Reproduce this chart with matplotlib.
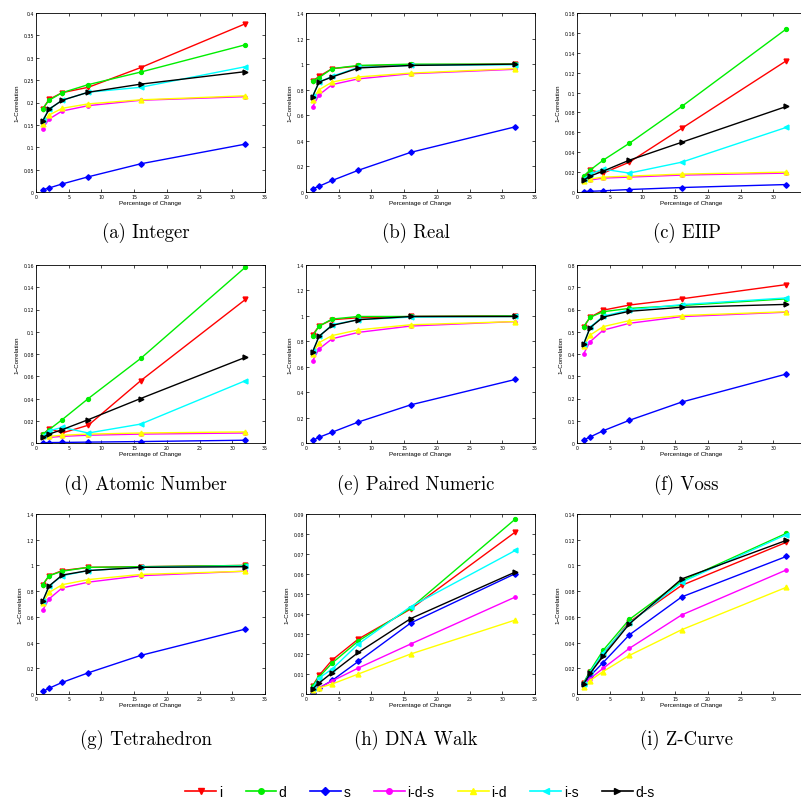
import matplotlib
matplotlib.use("Agg")
import matplotlib.pyplot as plt
from matplotlib.ticker import MultipleLocator, FuncFormatter
from matplotlib.lines import Line2D

# Percentage of change applied to the sequences
pct = [1, 2, 4, 8, 16, 32]

series_names = ["i", "d", "s", "i-d-s", "i-d", "i-s", "d-s"]
series_colors = ["#ff0000", "#00ee00", "#0000ff", "#ff00ff", "#ffff00", "#00ffff", "#000000"]
series_markers = ["v", "o", "D", "o", "^", "<", ">"]

panel_titles = ["(a) Integer", "(b) Real", "(c) EIIP",
                "(d) Atomic Number", "(e) Paired Numeric", "(f) Voss",
                "(g) Tetrahedron", "(h) DNA Walk", "(i) Z-Curve"]

# y-axis upper limit and tick step per panel
y_max = [0.4, 1.4, 0.18, 0.16, 1.4, 0.8, 1.4, 0.09, 0.14]
y_step = [0.05, 0.2, 0.02, 0.02, 0.2, 0.1, 0.2, 0.01, 0.02]

# 1 - correlation values, series order: i, d, s, i-d-s, i-d, i-s, d-s
integer_vals = [
    [0.185, 0.207, 0.222, 0.234, 0.278, 0.376],
    [0.186, 0.205, 0.222, 0.240, 0.268, 0.329],
    [0.005, 0.009, 0.018, 0.034, 0.063, 0.107],
    [0.141, 0.163, 0.181, 0.193, 0.205, 0.213],
    [0.153, 0.172, 0.187, 0.197, 0.206, 0.215],
    [0.160, 0.185, 0.205, 0.223, 0.234, 0.280],
    [0.158, 0.185, 0.205, 0.223, 0.241, 0.269],
]
real_vals = [
    [0.865, 0.905, 0.965, 0.985, 0.995, 1.000],
    [0.870, 0.895, 0.965, 0.990, 1.000, 1.000],
    [0.025, 0.045, 0.090, 0.170, 0.310, 0.510],
    [0.665, 0.760, 0.840, 0.885, 0.925, 0.960],
    [0.720, 0.800, 0.860, 0.900, 0.930, 0.965],
    [0.750, 0.860, 0.905, 0.975, 0.990, 0.995],
    [0.745, 0.860, 0.900, 0.970, 0.990, 1.000],
]
eiip_vals = [
    [0.013, 0.022, 0.019, 0.030, 0.064, 0.132],
    [0.016, 0.022, 0.032, 0.049, 0.086, 0.164],
    [0.0005, 0.0007, 0.0012, 0.0025, 0.0045, 0.0075],
    [0.011, 0.012, 0.014, 0.015, 0.017, 0.019],
    [0.011, 0.013, 0.015, 0.016, 0.018, 0.020],
    [0.013, 0.018, 0.023, 0.019, 0.030, 0.065],
    [0.012, 0.016, 0.021, 0.032, 0.050, 0.086],
]
atomic_vals = [
    [0.007, 0.013, 0.009, 0.016, 0.056, 0.129],
    [0.008, 0.012, 0.021, 0.040, 0.076, 0.158],
    [0.0003, 0.0004, 0.0005, 0.0008, 0.0013, 0.0025],
    [0.005, 0.005, 0.006, 0.007, 0.008, 0.009],
    [0.006, 0.006, 0.007, 0.008, 0.009, 0.010],
    [0.006, 0.011, 0.014, 0.009, 0.017, 0.056],
    [0.005, 0.008, 0.012, 0.021, 0.040, 0.077],
]
paired_vals = [
    [0.850, 0.920, 0.970, 0.985, 0.995, 1.000],
    [0.840, 0.920, 0.975, 0.995, 0.995, 1.000],
    [0.020, 0.045, 0.085, 0.165, 0.300, 0.500],
    [0.645, 0.740, 0.820, 0.870, 0.920, 0.955],
    [0.700, 0.790, 0.845, 0.890, 0.930, 0.955],
    [0.720, 0.840, 0.930, 0.970, 0.990, 0.995],
    [0.715, 0.840, 0.925, 0.970, 0.995, 0.995],
]
voss_vals = [
    [0.520, 0.565, 0.597, 0.620, 0.648, 0.712],
    [0.522, 0.565, 0.590, 0.605, 0.618, 0.648],
    [0.013, 0.027, 0.055, 0.102, 0.184, 0.310],
    [0.400, 0.455, 0.507, 0.538, 0.568, 0.588],
    [0.435, 0.485, 0.523, 0.550, 0.573, 0.590],
    [0.445, 0.520, 0.570, 0.598, 0.622, 0.652],
    [0.443, 0.518, 0.566, 0.592, 0.610, 0.623],
]
tetra_vals = [
    [0.845, 0.920, 0.960, 0.985, 0.990, 1.000],
    [0.850, 0.920, 0.955, 0.985, 0.990, 1.000],
    [0.020, 0.045, 0.090, 0.165, 0.300, 0.505],
    [0.650, 0.740, 0.825, 0.870, 0.920, 0.955],
    [0.705, 0.790, 0.850, 0.890, 0.930, 0.955],
    [0.720, 0.840, 0.920, 0.960, 0.985, 0.995],
    [0.720, 0.840, 0.925, 0.960, 0.985, 0.990],
]
walk_vals = [
    [0.0040, 0.0093, 0.0170, 0.0275, 0.0425, 0.0810],
    [0.0040, 0.0085, 0.0155, 0.0265, 0.0430, 0.0875],
    [0.0005, 0.0030, 0.0068, 0.0163, 0.0355, 0.0602],
    [0.0020, 0.0030, 0.0065, 0.0130, 0.0250, 0.0485],
    [0.0020, 0.0030, 0.0050, 0.0100, 0.0200, 0.0370],
    [0.0030, 0.0080, 0.0125, 0.0250, 0.0437, 0.0718],
    [0.0025, 0.0055, 0.0107, 0.0208, 0.0377, 0.0610],
]
zcurve_vals = [
    [0.0085, 0.0170, 0.0310, 0.0560, 0.0845, 0.1180],
    [0.0085, 0.0180, 0.0340, 0.0580, 0.0880, 0.1250],
    [0.0075, 0.0140, 0.0245, 0.0460, 0.0755, 0.1070],
    [0.0070, 0.0120, 0.0200, 0.0355, 0.0615, 0.0965],
    [0.0055, 0.0105, 0.0175, 0.0300, 0.0500, 0.0830],
    [0.0080, 0.0170, 0.0320, 0.0550, 0.0870, 0.1240],
    [0.0078, 0.0160, 0.0295, 0.0545, 0.0895, 0.1195],
]

panel_data = [integer_vals, real_vals, eiip_vals,
              atomic_vals, paired_vals, voss_vals,
              tetra_vals, walk_vals, zcurve_vals]

W, H = 801, 803
fig = plt.figure(figsize=(W / 100, H / 100), dpi=100)

col_left = [36, 306, 577]
ax_w = 229
row_top = [14, 266, 515]
row_bot = [193, 444, 695]
caption_y = [233, 485, 740]

tick_fmt = FuncFormatter(lambda v, p: f"{round(v, 6):g}")
# right-hand column runs past the page edge, so its last x label is not drawn
tick_fmt_edge = FuncFormatter(lambda v, p: "" if v > 33 else f"{round(v, 6):g}")

for k, (title, vals) in enumerate(zip(panel_titles, panel_data)):
    r, c = divmod(k, 3)
    left = col_left[c] / W
    bottom = 1 - row_bot[r] / H
    height = (row_bot[r] - row_top[r]) / H
    ax = fig.add_axes([left, bottom, ax_w / W, height])
    for name, col, mk, ys in zip(series_names, series_colors, series_markers, vals):
        ms = 2.8 if mk in ("D", "o") else 3.5
        if name == "i-d-s":
            ms = 2.4
        ax.plot(pct, ys, color=col, marker=mk, markersize=ms, linewidth=1.0,
                markeredgecolor=col, markerfacecolor=col)
    ax.set_xlim(0, 35)
    ax.set_ylim(0, y_max[k])
    ax.xaxis.set_major_locator(MultipleLocator(5))
    ax.yaxis.set_major_locator(MultipleLocator(y_step[k]))
    ax.xaxis.set_major_formatter(tick_fmt_edge if c == 2 else tick_fmt)
    ax.yaxis.set_major_formatter(tick_fmt)
    ax.tick_params(direction="in", top=True, right=True, length=2.5, width=0.5,
                   labelsize=3.4, pad=1.5)
    for sp in ax.spines.values():
        sp.set_linewidth(0.6)
    ax.set_xlabel("Percentage of Change", fontsize=4.5, family="Liberation Sans", labelpad=1)
    ax.set_ylabel("1\u2212Correlation", fontsize=4.5, family="Liberation Sans", labelpad=3)
    cx = (col_left[c] + ax_w / 2 - 5) / W
    fig.text(cx, 1 - caption_y[r] / H, title, ha="center", va="center",
             fontsize=13.5, family="cmr10")

handles = [Line2D([0], [0], color=col, marker=mk, markersize=4, linewidth=1.2)
           for col, mk in zip(series_colors, series_markers)]
fig.legend(handles, series_names, loc="center", ncol=7, frameon=False,
           bbox_to_anchor=(420 / W, 1 - 793 / H),
           handlelength=2.2, handletextpad=0.2, columnspacing=1.7,
           prop={"family": "Liberation Sans", "size": 10})

fig.savefig("out.png", dpi=100)
